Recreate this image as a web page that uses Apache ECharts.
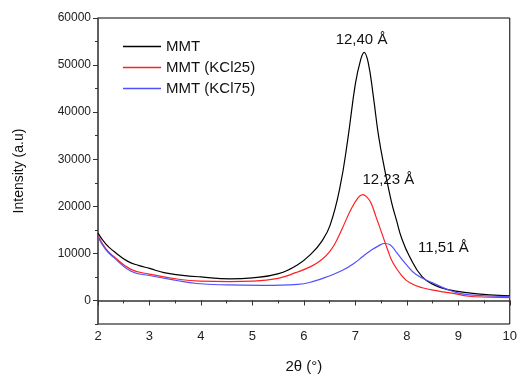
<!DOCTYPE html>
<html><head><meta charset="utf-8">
<script src="https://cdn.jsdelivr.net/npm/echarts@6/dist/echarts.min.js"></script>
<style>html,body{margin:0;padding:0;background:#fff}#c{width:520px;height:379px}</style>
</head><body><div id="c"></div>
<script>
const seriesNames = ['MMT', 'MMT (KCl25)', 'MMT (KCl75)'];
const colors = ['#000000', '#ff2020', '#5050ff'];
const xMMT = [2, 2.15, 2.3, 2.58, 2.8, 3.0, 3.28, 3.6, 4.0, 4.56, 5.0, 5.51, 5.88, 6.16, 6.35, 6.51, 6.7, 6.85, 7.0, 7.1, 7.17, 7.25, 7.35, 7.45, 7.57, 7.7, 7.8, 7.9, 8.05, 8.3, 8.55, 8.8, 9.2, 9.6, 10];
const yMMT = [14300, 12000, 10500, 8300, 7400, 6800, 5900, 5400, 5000, 4600, 4800, 5700, 7600, 10100, 12600, 16000, 24000, 34000, 46000, 51000, 52700, 50500, 43300, 35000, 27800, 21000, 17000, 13200, 9400, 5000, 3200, 2300, 1600, 1200, 1000];
const xK25 = [2, 2.15, 2.3, 2.64, 3.0, 3.6, 4.0, 4.55, 5.0, 5.5, 5.84, 6.15, 6.35, 6.48, 6.6, 6.75, 6.9, 7.05, 7.14, 7.22, 7.3, 7.4, 7.51, 7.62, 7.73, 7.9, 8.05, 8.3, 8.62, 8.9, 9.2, 9.6, 10];
const yK25 = [13800, 11000, 9400, 6600, 5600, 4450, 4100, 4000, 4100, 4700, 5900, 7300, 8700, 10100, 12000, 15400, 19000, 21800, 22500, 22000, 20800, 17800, 14400, 11000, 8000, 5300, 3800, 2700, 2000, 1500, 900, 700, 600];
const xK75 = [2, 2.15, 2.3, 2.64, 3.0, 3.5, 3.92, 4.5, 5.2, 5.88, 6.2, 6.48, 6.75, 6.99, 7.15, 7.3, 7.45, 7.57, 7.68, 7.8, 8.0, 8.18, 8.5, 8.8, 9.07, 9.5, 10];
const yK75 = [13500, 10800, 9200, 6200, 5300, 4300, 3600, 3300, 3200, 3400, 4100, 5150, 6400, 8000, 9400, 10600, 11600, 12100, 11800, 10200, 7500, 5500, 3750, 2300, 1400, 1000, 800];
const peakLabels = ['12,40 Å', '12,23 Å', '11,51 Å'];
const peakLabelX = [7.12, 7.64, 8.71];
const peakLabelY = [55300, 25650, 11200];
const yMajorTicks = [0, 10000, 20000, 30000, 40000, 50000, 60000];
const yMinorTicks = [-5000, 5000, 15000, 25000, 35000, 45000, 55000];

const xs = [xMMT, xK25, xK75], ys = [yMMT, yK25, yK75];
const font = 'Arial, "Liberation Sans", sans-serif';
const chart = echarts.init(document.getElementById('c'));
const series = seriesNames.map((n, i) => ({
  name: n, type: 'line', smooth: 0.45, showSymbol: false, symbol: 'none',
  data: xs[i].map((x, j) => [x, ys[i][j]]),
  lineStyle: { color: colors[i], width: 1.2 }, itemStyle: { color: colors[i] }
}));
series.push({
  name: 'labels', type: 'scatter', symbolSize: 0, silent: true,
  itemStyle: { color: '#000' },
  data: peakLabels.map((t, k) => ({ name: t, value: [peakLabelX[k], peakLabelY[k]] })),
  label: { show: true, position: 'inside', formatter: p => p.name, color: '#111', opacity: 1, textBorderWidth: 0, fontSize: 15, fontFamily: font }
});
chart.setOption({
  animation: false,
  grid: { left: 98, right: 5, top: 18, bottom: 54, show: true, borderColor: '#000', borderWidth: 1 },
  legend: {
    orient: 'vertical', left: 118, top: 34, itemWidth: 38, itemHeight: 1.5, itemGap: 6,
    icon: 'rect', data: seriesNames,
    textStyle: { fontSize: 15, fontFamily: font, color: '#111' }
  },
  xAxis: {
    type: 'value', min: 2, max: 10, interval: 1,
    name: '2θ (°)', nameLocation: 'middle', nameGap: 35,
    nameTextStyle: { fontSize: 15, fontFamily: font, color: '#111' },
    axisLine: { lineStyle: { color: '#333', width: 1.5 } },
    axisTick: { length: 5, lineStyle: { color: '#333' } },
    minorTick: { show: true, splitNumber: 2, length: 3, lineStyle: { color: '#333' } },
    splitLine: { show: false },
    axisLabel: { fontSize: 13, fontFamily: font, color: '#222', margin: 6 }
  },
  yAxis: [{
    type: 'value', min: -5000, max: 60000,
    name: 'Intensity (a.u)', nameLocation: 'middle', nameGap: 72,
    nameTextStyle: { fontSize: 14, fontFamily: font, color: '#111' },
    axisLine: { show: true, lineStyle: { color: '#555', width: 1.5 } },
    axisTick: { show: true, length: 5, customValues: yMajorTicks, lineStyle: { color: '#333' } },
    axisLabel: { customValues: yMajorTicks, formatter: v => String(v), fontSize: 12, fontFamily: font, color: '#222', margin: 7 },
    splitLine: { show: false }
  }, {
    type: 'value', min: -5000, max: 60000, position: 'left',
    axisLine: { show: false },
    axisTick: { show: true, length: 3, customValues: yMinorTicks, lineStyle: { color: '#333' } },
    axisLabel: { show: false }, splitLine: { show: false }
  }],
  series
});
</script></body></html>
